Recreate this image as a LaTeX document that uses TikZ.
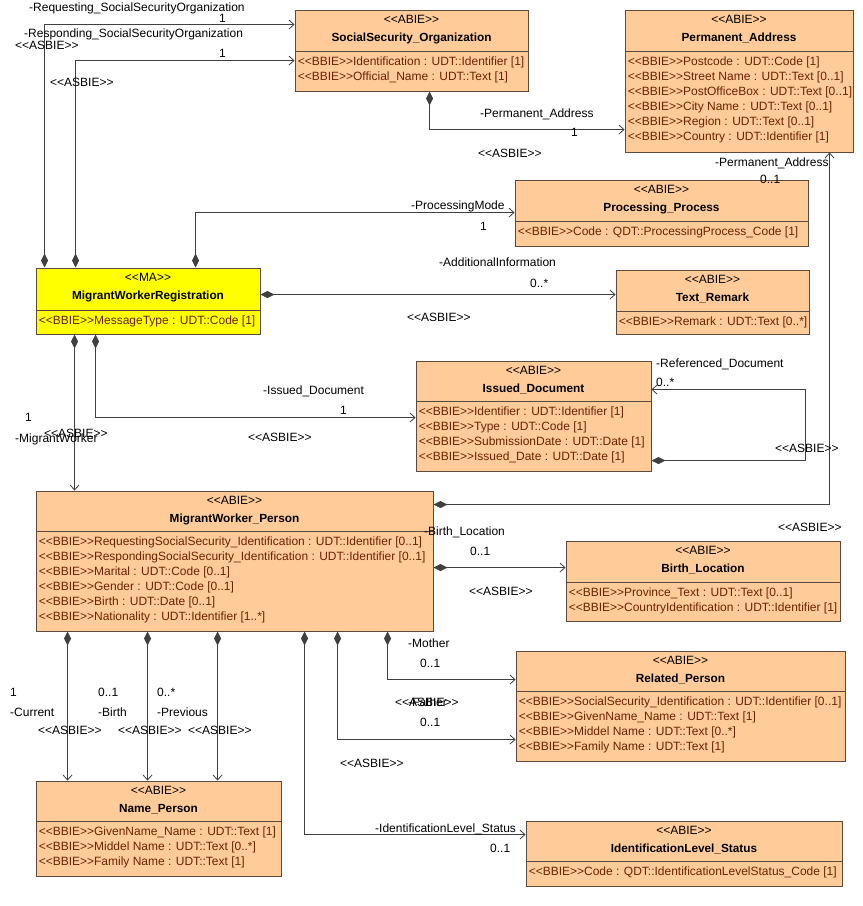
\documentclass[tikz,border=0pt]{standalone}
\usepackage{fontspec}
\setmainfont{Liberation Sans}[Ligatures=TeXOff]
\usetikzlibrary{arrows.meta,calc,fit,positioning}
\definecolor{abiefill}{HTML}{FFCC99}
\definecolor{mafill}{HTML}{FFFF00}
\definecolor{boxline}{HTML}{5C4A3C}
\definecolor{attrtext}{HTML}{6B2200}
\definecolor{linecol}{HTML}{404040}
\newcommand{\umlfont}{\fontsize{12}{14}\selectfont}
\newcommand{\clsfont}{\fontsize{11.8}{14}\selectfont\bfseries}
% class box: name, fill, top left, bottom right, divider, stereotype, title, attributes
\newcommand{\classbox}[8]{%
  \node[boxframe, fill=#2, fit={#3 #4}] (#1) {};
  \draw[boxframe] ([yshift=-#5pt]#1.north west) -- ([yshift=-#5pt]#1.north east);
  \node[stereo] (#1-st) at ([yshift=-14pt]#1.north) {#6};
  \node[clsname] (#1-nm) at ([yshift=-32pt]#1.north) {#7};
  \foreach \a [count=\i from 0] in {#8} {
    \node[attr] (#1-a\i) at ([xshift=3pt,yshift={-#5pt-14pt-15pt*\i}]#1.north west) {\a};
  }%
}

\begin{document}
\begin{tikzpicture}[x=1pt,y=-1pt,
  boxframe/.style={draw=boxline, line width=0.9pt, inner sep=0pt},
  stereo/.style={anchor=base, inner sep=0pt, font=\umlfont},
  clsname/.style={anchor=base, inner sep=0pt, font=\clsfont},
  attr/.style={anchor=base west, inner sep=0pt, font=\umlfont, text=attrtext},
  lbl/.style={anchor=base west, inner sep=0pt, font=\umlfont},
  assoc/.style={draw=linecol, line width=0.8pt,
    {Diamond[length=14pt,width=7pt]}-{Straight Barb[length=5pt,width=9pt]}}]
  \useasboundingbox[fill=white] (0,0) rectangle (863,906);

  % Klassen
  \classbox{sso}{abiefill}{(295,10)}{(528,91)}{42}{<<ABIE>>}{SocialSecurity\_Organization}{%
    <<BBIE>>Identification : UDT::Identifier [1],%
    <<BBIE>>Official\_Name : UDT::Text [1]}
  \classbox{pa}{abiefill}{(625,10)}{(853,152)}{42}{<<ABIE>>}{Permanent\_Address}{%
    <<BBIE>>Postcode : UDT::Code [1],%
    <<BBIE>>Street Name : UDT::Text [0..1],%
    <<BBIE>>PostOfficeBox : UDT::Text [0..1],%
    <<BBIE>>City Name : UDT::Text [0..1],%
    <<BBIE>>Region : UDT::Text [0..1],%
    <<BBIE>>Country : UDT::Identifier [1]}
  \classbox{pp}{abiefill}{(515,180)}{(808,246)}{42}{<<ABIE>>}{Processing\_Process}{%
    <<BBIE>>Code : QDT::ProcessingProcess\_Code [1]}
  \classbox{tr}{abiefill}{(616,270)}{(809,334)}{42}{<<ABIE>>}{Text\_Remark}{%
    <<BBIE>>Remark : UDT::Text [0..*]}
  \classbox{mwr}{mafill}{(36,268)}{(260,334)}{43}{<<MA>>}{MigrantWorkerRegistration}{%
    <<BBIE>>MessageType : UDT::Code [1]}
  \classbox{id}{abiefill}{(416,361)}{(651,471)}{41}{<<ABIE>>}{Issued\_Document}{%
    <<BBIE>>Identifier : UDT::Identifier [1],%
    <<BBIE>>Type : UDT::Code [1],%
    <<BBIE>>SubmissionDate : UDT::Date [1],%
    <<BBIE>>Issued\_Date : UDT::Date [1]}
  \classbox{mwp}{abiefill}{(36,491)}{(433,631)}{41}{<<ABIE>>}{MigrantWorker\_Person}{%
    <<BBIE>>RequestingSocialSecurity\_Identification : UDT::Identifier [0..1],%
    <<BBIE>>RespondingSocialSecurity\_Identification : UDT::Identifier [0..1],%
    <<BBIE>>Marital : UDT::Code [0..1],%
    <<BBIE>>Gender : UDT::Code [0..1],%
    <<BBIE>>Birth : UDT::Date [0..1],%
    <<BBIE>>Nationality : UDT::Identifier [1..*]}
  \classbox{bl}{abiefill}{(566,541)}{(840,621)}{42}{<<ABIE>>}{Birth\_Location}{%
    <<BBIE>>Province\_Text : UDT::Text [0..1],%
    <<BBIE>>CountryIdentification : UDT::Identifier [1]}
  \classbox{rp}{abiefill}{(516,651)}{(845,761)}{41}{<<ABIE>>}{Related\_Person}{%
    <<BBIE>>SocialSecurity\_Identification : UDT::Identifier [0..1],%
    <<BBIE>>GivenName\_Name : UDT::Text [1],%
    <<BBIE>>Middel Name : UDT::Text [0..*],%
    <<BBIE>>Family Name : UDT::Text [1]}
  \classbox{np}{abiefill}{(36,781)}{(281,876)}{41}{<<ABIE>>}{Name\_Person}{%
    <<BBIE>>GivenName\_Name : UDT::Text [1],%
    <<BBIE>>Middel Name : UDT::Text [0..*],%
    <<BBIE>>Family Name : UDT::Text [1]}
  \classbox{ils}{abiefill}{(526,821)}{(842,886)}{41}{<<ABIE>>}{IdentificationLevel\_Status}{%
    <<BBIE>>Code : QDT::IdentificationLevelStatus\_Code [1]}

  % Assoziationen
  \draw[assoc] ([xshift=9pt]mwr.north west) |- ([yshift=-15pt]sso.north west);
  \draw[assoc] ([xshift=40pt]mwr.north west) |- ([yshift=-51pt]sso.north west);
  \draw[assoc] ([xshift=160pt]mwr.north west) |- ([yshift=-33pt]pp.north west);
  \draw[assoc] ([yshift=-27pt]mwr.north east) -- ([yshift=-25pt]tr.north west);
  \draw[assoc] ([xshift=60pt]mwr.south west) |- ([yshift=-57pt]id.north west);
  \draw[assoc] ([xshift=39pt]mwr.south west) -- ([xshift=39pt]mwp.north west);
  \draw[assoc] ([xshift=135pt]sso.south west) |- ([yshift=-120pt]pa.north west);
  \draw[assoc] ([yshift=-14pt]mwp.north east) -| ([xshift=205pt]pa.south west);
  \draw[assoc] ([yshift=-100pt]id.north east) -- ++(154,0) |- ([yshift=-29pt]id.north east);
  \draw[assoc] ([yshift=-77pt]mwp.north east) -- ([yshift=-27pt]bl.north west);
  \draw[assoc] ([xshift=352pt]mwp.south west) |- ([yshift=-29pt]rp.north west);
  \draw[assoc] ([xshift=302pt]mwp.south west) |- ([yshift=-89pt]rp.north west);
  \draw[assoc] ([xshift=269pt]mwp.south west) |- ([yshift=-14pt]ils.north west);
  \foreach \dx in {32,112,182}
    \draw[assoc] ([xshift=\dx pt]mwp.south west) -- ([xshift=\dx pt]np.north west);

  % Rollen, Multiplizitaeten, Stereotypen
  \node[lbl] (req-role) at (29,11) {-Requesting\_SocialSecurityOrganization};
  \node[lbl] (req-mult) at (219,22) {1};
  \node[lbl] (req-st) at (15,49) {<<ASBIE>>};
  \node[lbl] (resp-role) at (24,37) {-Responding\_SocialSecurityOrganization};
  \node[lbl] (resp-mult) at (219,57) {1};
  \node[lbl] (resp-st) at (50,86) {<<ASBIE>>};
  \node[lbl] (padr-role) at (480,117) {-Permanent\_Address};
  \node[lbl] (padr-mult) at (571,136) {1};
  \node[lbl] (padr-st) at (478,157) {<<ASBIE>>};
  \node[lbl] (padr2-role) at (715,166) {-Permanent\_Address};
  \node[lbl] (padr2-mult) at (760,183) {0..1};
  \node[lbl] (padr2-st) at (778,531) {<<ASBIE>>};
  \node[lbl] (proc-role) at (411,209) {-ProcessingMode};
  \node[lbl] (proc-mult) at (480,230) {1};
  \node[lbl] (add-role) at (439,266) {-AdditionalInformation};
  \node[lbl] (add-mult) at (530,287) {0..*};
  \node[lbl] (add-st) at (407,321) {<<ASBIE>>};
  \node[lbl] (iss-role) at (263,394) {-Issued\_Document};
  \node[lbl] (iss-mult) at (340,414) {1};
  \node[lbl] (iss-st) at (248,441) {<<ASBIE>>};
  \node[lbl] (mw-mult) at (25,421) {1};
  \node[lbl] (mw-role) at (15,442) {-MigrantWorker};
  \node[lbl] (mw-st) at (44,437) {<<ASBIE>>};
  \node[lbl] (ref-role) at (656,367) {-Referenced\_Document};
  \node[lbl] (ref-mult) at (656,386) {0..*};
  \node[lbl] (ref-st) at (775,452) {<<ASBIE>>};
  \node[lbl] (birthl-role) at (424,535) {-Birth\_Location};
  \node[lbl] (birthl-mult) at (470,555) {0..1};
  \node[lbl] (birthl-st) at (469,595) {<<ASBIE>>};
  \node[lbl] (mother-role) at (408,647) {-Mother};
  \node[lbl] (mother-mult) at (420,667) {0..1};
  \node[lbl] (mother-st) at (395,706) {<<ASBIE>>};
  \node[lbl] (father-role) at (408,706) {-Father};
  \node[lbl] (father-mult) at (420,726) {0..1};
  \node[lbl] (father-st) at (340,767) {<<ASBIE>>};
  \node[lbl] (cur-mult) at (10,696) {1};
  \node[lbl] (cur-role) at (10,716) {-Current};
  \node[lbl] (cur-st) at (38,734) {<<ASBIE>>};
  \node[lbl] (bn-mult) at (98,696) {0..1};
  \node[lbl] (bn-role) at (98,716) {-Birth};
  \node[lbl] (bn-st) at (118,734) {<<ASBIE>>};
  \node[lbl] (prev-mult) at (157,696) {0..*};
  \node[lbl] (prev-role) at (157,716) {-Previous};
  \node[lbl] (prev-st) at (188,734) {<<ASBIE>>};
  \node[lbl] (ils-role) at (375,832) {-IdentificationLevel\_Status};
  \node[lbl] (ils-mult) at (490,852) {0..1};
\end{tikzpicture}
\end{document}
